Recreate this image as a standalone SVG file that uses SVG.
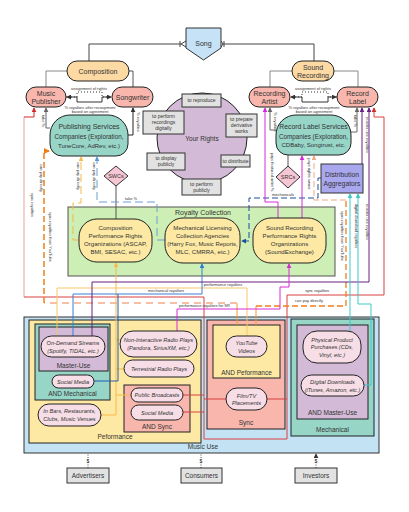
<svg xmlns="http://www.w3.org/2000/svg" width="409" height="512" viewBox="0 0 409 512">
<style>
text{font-family:"Liberation Sans",Arial,sans-serif;fill:#333;text-anchor:middle}
.t7{font-size:7px}
.t68{font-size:6.8px}
.t65{font-size:6.5px}
.t6{font-size:6.1px}
.t5{font-size:5px}
.t4{font-size:4px}
.pt{font-size:5.6px;font-style:italic}
.bd{stroke:#222;stroke-width:1}
.pill{fill:#f6dde6;stroke:#222;stroke-width:1}
.gb{fill:#e2e2e2;stroke:#333;stroke-width:1}
.c{fill:none;stroke-width:1}
.peach{fill:#fdd9a3}
.salmon{fill:#f8b6ad}
.teal{fill:#97d5c7}
.lav{fill:#d3bad6}
.yel{fill:#fde9a3}
</style>
<defs>
<marker id="ak" viewBox="0 0 6 6" refX="5" refY="3" markerWidth="5" markerHeight="5" orient="auto"><path d="M0,0 L6,3 L0,6 z" fill="#333"/></marker>
<marker id="ag" viewBox="0 0 6 6" refX="5" refY="3" markerWidth="5" markerHeight="5" orient="auto"><path d="M0,0 L6,3 L0,6 z" fill="#666"/></marker>
<marker id="ar" viewBox="0 0 6 6" refX="5" refY="3" markerWidth="5" markerHeight="5" orient="auto"><path d="M0,0 L6,3 L0,6 z" fill="#d42a2a"/></marker>
<marker id="ao" viewBox="0 0 6 6" refX="5" refY="3" markerWidth="4" markerHeight="4" orient="auto"><path d="M0,0 L6,3 L0,6 z" fill="#f07f1a"/></marker>
<marker id="al" viewBox="0 0 6 6" refX="5" refY="3" markerWidth="5" markerHeight="5" orient="auto"><path d="M0,0 L6,3 L0,6 z" fill="#f9b84a"/></marker>
<marker id="as" viewBox="0 0 6 6" refX="5" refY="3" markerWidth="5" markerHeight="5" orient="auto"><path d="M0,0 L6,3 L0,6 z" fill="#f2a882"/></marker>
<marker id="ab" viewBox="0 0 6 6" refX="5" refY="3" markerWidth="5" markerHeight="5" orient="auto"><path d="M0,0 L6,3 L0,6 z" fill="#5f97d0"/></marker>
<marker id="abl" viewBox="0 0 6 6" refX="5" refY="3" markerWidth="5" markerHeight="5" orient="auto"><path d="M0,0 L6,3 L0,6 z" fill="#2f7bd4"/></marker>
<marker id="ad" viewBox="0 0 6 6" refX="5" refY="3" markerWidth="5" markerHeight="5" orient="auto"><path d="M0,0 L6,3 L0,6 z" fill="#1b4f9c"/></marker>
<marker id="am" viewBox="0 0 6 6" refX="5" refY="3" markerWidth="5" markerHeight="5" orient="auto"><path d="M0,0 L6,3 L0,6 z" fill="#d62ad6"/></marker>
<marker id="ap" viewBox="0 0 6 6" refX="5" refY="3" markerWidth="5" markerHeight="5" orient="auto"><path d="M0,0 L6,3 L0,6 z" fill="#6b1f7f"/></marker>
<marker id="ac" viewBox="0 0 6 6" refX="5" refY="3" markerWidth="5" markerHeight="5" orient="auto"><path d="M0,0 L6,3 L0,6 z" fill="#3cc9c9"/></marker>
</defs>
<rect width="409" height="512" fill="#fff"/>

<!-- containers -->
<g id="royalty-collection">
<rect x="68" y="207" width="267" height="69" fill="#cdeeb5" stroke="#555"/>
<text class="t7" x="203" y="215">Royalty Collection</text>
</g>
<g id="music-use">
<rect x="24" y="317" width="355" height="136" fill="#c3e3f5" stroke="#333"/>
<text class="t65" x="203" y="449">Music Use</text>
</g>
<g id="peformance">
<rect x="29" y="320" width="172" height="123" class="yel bd"/>
<text class="t65" x="115" y="439">Peformance</text>
</g>
<g id="and-mechanical">
<rect x="35" y="324" width="75" height="76" class="teal bd"/>
<text class="t65" x="72.5" y="395.5">AND Mechanical</text>
</g>
<g id="master-use">
<rect x="39" y="327" width="69" height="44" class="lav bd"/>
<text class="t65" x="73.5" y="367.5">Master-Use</text>
</g>
<g id="and-sync">
<rect x="124" y="385" width="66" height="47" class="salmon bd"/>
<text class="t65" x="157" y="428.5">AND Sync</text>
</g>
<g id="sync">
<rect x="207" y="320" width="78" height="109" class="salmon bd"/>
<text class="t65" x="246" y="425">Sync</text>
</g>
<g id="and-peformance">
<rect x="213" y="325" width="67" height="53" class="yel bd"/>
<text class="t65" x="246.5" y="374.5">AND Peformance</text>
</g>
<g id="mechanical">
<rect x="291" y="319" width="83" height="117" class="teal bd"/>
<text class="t65" x="332.5" y="431.5">Mechanical</text>
</g>
<g id="and-master-use">
<rect x="297" y="325" width="71" height="94" class="lav bd"/>
<text class="t65" x="332.5" y="414.5">AND Master-Use</text>
</g>

<!-- connectors -->
<g id="connectors" class="c">
<path d="M89,61 V44 H181" stroke="#444"/>
<path d="M180,41 V47 M181,44 L186,41 M181,44 L186,47" stroke="#444"/>
<path d="M223,44 H314 V61" stroke="#444"/>
<path d="M224,41 V47 M223,44 L221,41 M223,44 L221,47" stroke="#444"/>
<path d="M67,71 H46 V87" stroke="#888"/>
<path d="M129,71 H133 V87" stroke="#555"/>
<path d="M292,71 H270 V87" stroke="#888"/>
<path d="M334,71 H358 V87" stroke="#888"/>
<path d="M66,97 H77 V102 H102 V97 H111" stroke="#333" marker-end="url(#ak)"/>
<path d="M110,97 H102 V92 H77 V97 H67" stroke="#333" stroke-dasharray="1,2" marker-end="url(#ak)"/>
<path d="M337,97 H328 V102 H302 V97 H291" stroke="#333" marker-end="url(#ak)"/>
<path d="M292,97 H302 V92 H328 V97 H336" stroke="#333" stroke-dasharray="1,2" marker-end="url(#ak)"/>
<path d="M50,128 H46 V108" stroke="#666" marker-end="url(#ag)"/>
<path d="M128,135 H133 V108" stroke="#222" marker-end="url(#ak)"/>
<path d="M276,130 H270 V108" stroke="#666" marker-end="url(#ag)"/>
<path d="M351,132 H357 V108" stroke="#666" marker-end="url(#ag)"/>
<path d="M116,186 V219" stroke="#555"/>
<path d="M288,155 V166" stroke="#555"/>
<path d="M24,297 V117" stroke="#e9a3a3"/>
<path d="M24,117 H34 V108" stroke="#d42a2a" marker-end="url(#ar)"/>
<path d="M24,297 H204 V439 H287 V295 H384 V117 H374 V108" stroke="#d94040" marker-end="url(#ar)"/>
<path d="M183,395 H204 M183,412 H204 M204,399 H226 M267,399 H287" stroke="#d94040"/>
<path d="M237,325 V303" stroke="#f09a30"/>
<path d="M237,303 H44" stroke="#f5bfa5" stroke-width="2" stroke-dasharray="7,5"/>
<path d="M44,303 V151 H49" stroke="#f07f1a" stroke-width="1.5" stroke-dasharray="6,3" marker-end="url(#ao)"/>
<path d="M256,325 V306" stroke="#f09a30"/>
<path d="M256,306 H346 V200" stroke="#f07f1a" stroke-width="1.3" stroke-dasharray="6,3"/>
<path d="M346,200 H314 V156" stroke="#f2a882" stroke-dasharray="6,3" marker-end="url(#as)"/>
<path d="M101,415 H116 V263" stroke="#f9b84a" marker-end="url(#al)"/>
<path d="M120,340 H116 M124,369 H116 M131,395 H116" stroke="#f9b84a"/>
<path d="M57,336 V288 H247 V336" stroke="#f9c46a"/>
<path d="M79,240 H73 V203 H81 V157" stroke="#f9b84a" stroke-dasharray="8,4" marker-end="url(#al)"/>
<path d="M165,240 H157 V202 H97 V157" stroke="#6b9fd3" stroke-dasharray="8,4" marker-end="url(#ab)"/>
<path d="M73,336 V294 H202 V264" stroke="#3a7fd5" marker-end="url(#abl)"/>
<path d="M94,381 H118 V294" stroke="#1f5fb0"/>
<path d="M321,178 H318 V198 H249 V241 H242" stroke="#1b4f9c" stroke-dasharray="6,3" marker-end="url(#ad)"/>
<path d="M92,336 V282 H369 V108" stroke="#6b1f7f" marker-end="url(#ap)"/>
<path d="M362,164 V108" stroke="#6b1f7f" marker-end="url(#ap)"/>
<path d="M177,331 V309 H280 V287 H289 V264" stroke="#d62ad6" marker-end="url(#am)"/>
<path d="M278,218 V202 H265 V108" stroke="#d62ad6" marker-end="url(#am)"/>
<path d="M302,218 V156" stroke="#d62ad6" marker-end="url(#am)"/>
<path d="M350,331 V194" stroke="#3cc9c9" marker-end="url(#ac)"/>
<path d="M364,385 H371 V304 H358 V194" stroke="#3cc9c9" marker-end="url(#ac)"/>
<path d="M88,468 V454 M201,468 V454 M316,468 V454" stroke="#444" stroke-dasharray="1,1.5" marker-end="url(#ak)"/>
</g>

<!-- connector labels -->
<g id="connector-labels" class="t4">
<text x="89" y="89.5">assignment of rights</text>
<text x="90" y="108.5">% royalties after recoupment</text>
<text x="90" y="112.5">based on agreement</text>
<text x="313" y="89.5">assignment of rights</text>
<text x="314" y="108.5">% royalties after recoupment</text>
<text x="314" y="112.5">based on agreement</text>
<text transform="translate(42,121) rotate(90)">take %</text>
<text transform="translate(137,122) rotate(90)">% royalties</text>
<text transform="translate(40,178) rotate(90)">can pay directly</text>
<text transform="translate(31,205) rotate(90)">sync royalties</text>
<text transform="translate(49,237) rotate(90)">sync royalties from YouTube</text>
<text transform="translate(77,176) rotate(90)">can pay directly</text>
<text transform="translate(93,176) rotate(90)">can pay directly</text>
<text x="131" y="200">take %</text>
<text transform="translate(274,122) rotate(90)">% royalties</text>
<text transform="translate(354,121) rotate(90)">take %</text>
<text transform="translate(271,172) rotate(90)">pays featured artist %</text>
<text transform="translate(308,174) rotate(90)">pays rights owner</text>
<text transform="translate(366,135) rotate(90)">master use royalties</text>
<text transform="translate(366,222) rotate(90)">master use royalties</text>
<text transform="translate(355,226) rotate(90)">digital download royalties</text>
<text transform="translate(341,236) rotate(90)">sync royalties from YouTube</text>
<text x="283" y="196">mechanicals</text>
<text x="166" y="291.5">mechanical royalties</text>
<text x="223" y="286">performance royalties</text>
<text x="179" y="306.5" style="text-anchor:start">performance royalties for SR</text>
<text x="317" y="292">sync royalties</text>
<text x="309" y="301.5">can pay directly</text>
<text class="t5" x="88" y="463" style="font-size:5px">$</text>
<text x="201" y="463" style="font-size:5px">$</text>
<text x="316" y="463" style="font-size:5px">$</text>
</g>

<!-- nodes -->
<g id="song">
<polygon points="186,28 221,28 221,48 203.5,60 186,48" fill="#c6e2f6" stroke="#333"/>
<text class="t7" x="203.5" y="45.5">Song</text>
</g>
<g id="composition">
<rect x="67" y="61" width="62" height="20" rx="10" class="peach bd"/>
<text class="t7" x="98" y="73.5">Composition</text>
</g>
<g id="sound-recording">
<rect x="292" y="61" width="42" height="20" rx="10" class="peach bd"/>
<text class="t7" x="313" y="69.5">Sound</text>
<text class="t7" x="313" y="78">Recording</text>
</g>
<g id="music-publisher">
<rect x="26" y="87" width="40" height="20" rx="10" class="salmon bd"/>
<text class="t7" x="46" y="95.5">Music</text>
<text class="t7" x="46" y="104">Publisher</text>
</g>
<g id="songwriter">
<rect x="112" y="87" width="41" height="20" rx="10" class="salmon bd"/>
<text class="t7" x="132.5" y="99.5">Songwriter</text>
</g>
<g id="recording-artist">
<rect x="249" y="87" width="41" height="20" rx="10" class="salmon bd"/>
<text class="t7" x="269.5" y="95.5">Recording</text>
<text class="t7" x="269.5" y="104">Artist</text>
</g>
<g id="record-label">
<rect x="337" y="87" width="41" height="20" rx="10" class="salmon bd"/>
<text class="t7" x="357.5" y="95.5">Record</text>
<text class="t7" x="357.5" y="104">Label</text>
</g>
<g id="your-rights">
<circle cx="202" cy="138" r="45" class="lav bd"/>
<text class="t65" x="202" y="141">Your Rights</text>
</g>
<g id="to-reproduce">
<rect x="182" y="94" width="39" height="13" class="gb"/>
<text class="t5" x="201.5" y="102.3">to reproduce</text>
</g>
<g id="to-perform-digitally">
<rect x="143" y="111" width="41" height="23" class="gb"/>
<text class="t5" x="163.5" y="117.5">to perform</text>
<text class="t5" x="163.5" y="123.5">recordings</text>
<text class="t5" x="163.5" y="129.5">digitally</text>
</g>
<g id="to-prepare">
<rect x="226" y="114" width="31" height="23" class="gb"/>
<text class="t5" x="241.5" y="120.5">to prepare</text>
<text class="t5" x="241.5" y="126.5">derivative</text>
<text class="t5" x="241.5" y="132.5">works</text>
</g>
<g id="to-display">
<rect x="147" y="153" width="38" height="17" class="gb"/>
<text class="t5" x="166" y="160">to display</text>
<text class="t5" x="166" y="166">publicly</text>
</g>
<g id="to-distribute">
<rect x="221" y="155" width="29" height="12" class="gb"/>
<text class="t5" x="235.5" y="162.8">to distribute</text>
</g>
<g id="to-perform-publicly">
<rect x="182" y="179" width="39" height="16" class="gb"/>
<text class="t5" x="201.5" y="185.5">to perform</text>
<text class="t5" x="201.5" y="191.5">publicly</text>
</g>
<g id="publishing-services">
<path d="M70,115 H108 A20,20 0 0 1 128,135 V144 A12,12 0 0 1 116,156 H62 A12,12 0 0 1 50,144 V135 A20,20 0 0 1 70,115 Z" class="teal bd"/>
<text class="t7" x="89" y="129">Publishing Services</text>
<text x="89" y="139" style="font-size:6.3px">Companies (Exploration,</text>
<text x="89" y="148" style="font-size:6px">TuneCore, AdRev, etc.)</text>
</g>
<g id="record-label-services">
<path d="M296,115 H331 A20,20 0 0 1 351,135 V143 A12,12 0 0 1 339,155 H288 A12,12 0 0 1 276,143 V135 A20,20 0 0 1 296,115 Z" class="teal bd"/>
<text class="t68" x="313.5" y="129">Record Label Services</text>
<text x="313.5" y="138.5" style="font-size:6.3px">Companies (Exploration,</text>
<text x="313.5" y="147" style="font-size:6px">CDBaby, Songtrust, etc.</text>
</g>
<g id="swcs">
<polygon points="116,166 128,176 116,186 104,176" fill="#f7c6d4" stroke="#333"/>
<text x="116" y="178" style="font-size:5.5px">SWCs</text>
</g>
<g id="srcs">
<polygon points="288,166 300,177 288,188 276,177" fill="#f7c6d4" stroke="#333"/>
<text x="288" y="179" style="font-size:5.5px">SRCs</text>
</g>
<g id="distribution-aggregators">
<rect x="321" y="164" width="42" height="29" fill="#a9a8ef" stroke="#333"/>
<text class="t68" x="342" y="176.5">Distribution</text>
<text class="t68" x="342" y="185.5">Aggregators</text>
</g>
<g id="composition-pro">
<rect x="79" y="219" width="73" height="43" rx="18" class="yel bd"/>
<text class="t6" x="115.5" y="230">Composition</text>
<text class="t6" x="115.5" y="238">Performance Rights</text>
<text class="t6" x="115.5" y="246">Organizations (ASCAP,</text>
<text class="t6" x="115.5" y="254">BMI, SESAC, etc.)</text>
</g>
<g id="mechanical-licensing">
<rect x="165" y="218" width="75" height="45" rx="18" class="yel bd"/>
<text class="t6" x="202.5" y="230">Mechanical Licensing</text>
<text class="t6" x="202.5" y="238">Collection Agencies</text>
<text x="202.5" y="246" style="font-size:5.9px">(Harry Fox, Music Reports,</text>
<text class="t6" x="202.5" y="254">MLC, CMRRA, etc.)</text>
</g>
<g id="sound-recording-pro">
<rect x="253" y="218" width="73" height="45" rx="18" class="yel bd"/>
<text class="t6" x="289.5" y="230">Sound Recording</text>
<text class="t6" x="289.5" y="238">Performance Rights</text>
<text class="t6" x="289.5" y="246">Organizations</text>
<text class="t6" x="289.5" y="254">(SoundExchange)</text>
</g>
<g id="on-demand">
<rect x="41" y="336" width="64" height="21" rx="10.5" class="pill"/>
<text class="pt" x="73" y="345">On-Demand Streams</text>
<text class="pt" x="73" y="352.5">(Spotify, TIDAL, etc.)</text>
</g>
<g id="social-media-mech">
<rect x="52" y="375" width="42" height="13" rx="6.5" class="pill"/>
<text class="pt" x="73" y="383.5">Social Media</text>
</g>
<g id="non-interactive">
<rect x="120" y="331" width="77" height="26" rx="13" class="pill"/>
<text class="pt" x="158.5" y="342">Non-Interactive Radio Plays</text>
<text class="pt" x="158.5" y="350">(Pandora, SiriusXM, etc.)</text>
</g>
<g id="terrestrial">
<rect x="124" y="360" width="70" height="17" rx="8.5" class="pill"/>
<text class="pt" x="159" y="370.5">Terrestrial Radio Plays</text>
</g>
<g id="public-broadcasts">
<rect x="131" y="388" width="52" height="14" rx="7" class="pill"/>
<text class="pt" x="157" y="397">Public Broadcasts</text>
</g>
<g id="social-media-sync">
<rect x="131" y="405" width="52" height="15" rx="7.5" class="pill"/>
<text class="pt" x="157" y="414.5">Social Media</text>
</g>
<g id="in-bars">
<rect x="38" y="404" width="63" height="22" rx="11" class="pill"/>
<text class="pt" x="69.5" y="413">In Bars, Restaurants,</text>
<text class="pt" x="69.5" y="420.5">Clubs, Music Venues</text>
</g>
<g id="youtube">
<rect x="226" y="336" width="41" height="21" rx="10.5" class="pill"/>
<text class="pt" x="246.5" y="345">YouTube</text>
<text class="pt" x="246.5" y="352.5">Videos</text>
</g>
<g id="film-tv">
<rect x="226" y="388" width="41" height="22" rx="11" class="pill"/>
<text class="pt" x="246.5" y="397.5">Film/TV</text>
<text class="pt" x="246.5" y="405">Placements</text>
</g>
<g id="physical-product">
<rect x="303" y="331" width="58" height="32" rx="14" class="pill"/>
<text class="pt" x="332" y="341.5">Physical Product</text>
<text class="pt" x="332" y="349">Purchases (CDs,</text>
<text class="pt" x="332" y="356.5">Vinyl, etc.)</text>
</g>
<g id="digital-downloads">
<rect x="301" y="375" width="63" height="21" rx="10.5" class="pill"/>
<text class="pt" x="332.5" y="384">Digital Downloads</text>
<text class="pt" x="332.5" y="391.5">(iTunes, Amazon, etc.)</text>
</g>
<g id="advertisers">
<rect x="67" y="468" width="42" height="15" class="gb"/>
<text class="t65" x="88" y="478">Advertisers</text>
</g>
<g id="consumers">
<rect x="181" y="468" width="41" height="15" class="gb"/>
<text class="t65" x="201.5" y="478">Consumers</text>
</g>
<g id="investors">
<rect x="295" y="468" width="42" height="15" class="gb"/>
<text class="t65" x="316" y="478">Investors</text>
</g>
</svg>
